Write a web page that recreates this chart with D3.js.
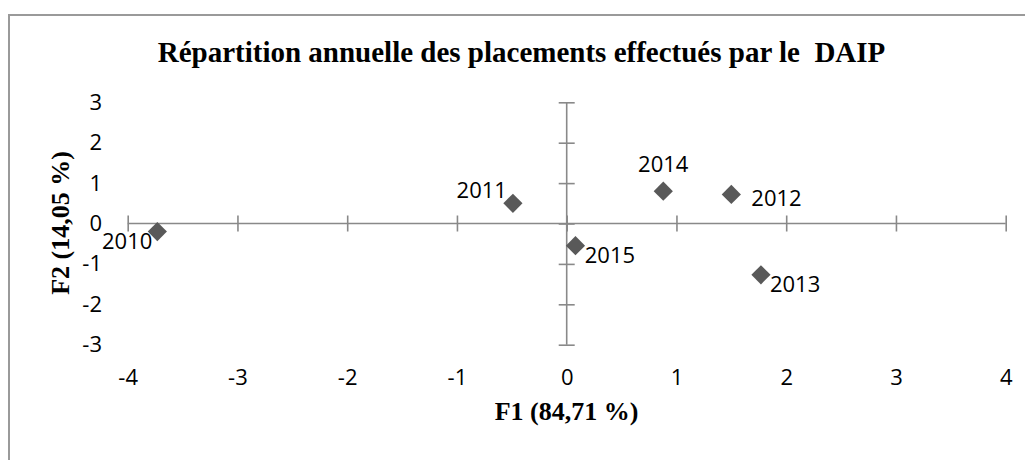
<!DOCTYPE html>
<html>
<head>
<meta charset="utf-8">
<script src="https://cdn.jsdelivr.net/npm/d3@7"></script>
<style>
  html, body { margin: 0; padding: 0; background: #ffffff; }
  svg { display: block; }
  text { white-space: pre; }
</style>
</head>
<body>
<svg id="chart" width="1025" height="460"></svg>
<script>
// ---- data ----
const years = ["2010", "2011", "2012", "2013", "2014", "2015"];
const f1Values = [-3.73, -0.49, 1.50, 1.77, 0.88, 0.08];
const f2Values = [-0.20, 0.50, 0.72, -1.27, 0.80, -0.55];
const xTicks = [-4, -3, -2, -1, 0, 1, 2, 3, 4];
const yTicks = [-3, -2, -1, 0, 1, 2, 3];
const titleText = "Répartition annuelle des placements effectués par le  DAIP";
const xTitle = "F1 (84,71 %)";
const yTitle = "F2 (14,05 %)";

// ---- layout ----
const svg = d3.select("#chart");
const axisColor = "#898989";
const markColor = "#595959";
const tickFont = "'Open Sans', sans-serif";
const tickSize = 22;
const serif = "'Liberation Serif', 'Times New Roman', serif";
const fmt = d => String(d);

const x = d3.scaleLinear().domain([-4, 4]).range([127.7, 1005.7]);
const y = d3.scaleLinear().domain([-3, 3]).range([344.7, 102.3]);

// frame
svg.append("path")
  .attr("d", "M9,470 L9,15 L1040,15")
  .attr("fill", "none")
  .attr("stroke", "#9a9a9a")
  .attr("stroke-width", 2);

// title
svg.append("text")
  .attr("x", 521.5).attr("y", 62)
  .attr("text-anchor", "middle")
  .attr("font-family", serif)
  .attr("font-weight", "bold")
  .attr("font-size", 29)
  .attr("fill", "#000")
  .text(titleText);

// x axis line through y=0 with crossing ticks
const gx = svg.append("g")
  .attr("transform", `translate(0,${y(0)})`)
  .call(d3.axisBottom(x).tickValues(xTicks).tickSize(8).tickFormat(""));
gx.selectAll(".tick line").attr("y1", -8).attr("y2", 8);
gx.select(".domain").attr("d", `M${x(-4)},0H${x(4)}`);
gx.selectAll("line, path").attr("stroke", axisColor).attr("stroke-width", 1.6);

// y axis line through x=0 with crossing ticks
const gy = svg.append("g")
  .attr("transform", `translate(${x(0)},0)`)
  .call(d3.axisLeft(y).tickValues(yTicks).tickSize(8).tickFormat(""));
gy.selectAll(".tick line").attr("x1", -8).attr("x2", 8);
gy.select(".domain").attr("d", `M0,${y(3)}V${y(-3)}`);
gy.selectAll("line, path").attr("stroke", axisColor).attr("stroke-width", 1.6);

// x tick labels at the bottom
const gxl = svg.append("g")
  .attr("transform", `translate(0,${y(-3)})`)
  .call(d3.axisBottom(x).tickValues(xTicks).tickSize(0).tickPadding(25).tickFormat(fmt));
gxl.select(".domain").remove();
gxl.selectAll("text")
  .attr("font-family", tickFont).attr("font-size", tickSize).attr("fill", "#000");

// y tick labels on the left
const gyl = svg.append("g")
  .attr("transform", `translate(104,0)`)
  .call(d3.axisLeft(y).tickValues(yTicks).tickSize(0).tickPadding(2).tickFormat(fmt));
gyl.select(".domain").remove();
gyl.selectAll("text")
  .attr("font-family", tickFont).attr("font-size", tickSize).attr("fill", "#000");

// axis titles
svg.append("text")
  .attr("x", 566.5).attr("y", 420)
  .attr("text-anchor", "middle")
  .attr("font-family", serif).attr("font-weight", "bold")
  .attr("font-size", 26).attr("fill", "#000")
  .text(xTitle);

svg.append("text")
  .attr("transform", `translate(69,223) rotate(-90)`)
  .attr("text-anchor", "middle")
  .attr("font-family", serif).attr("font-weight", "bold")
  .attr("font-size", 26).attr("fill", "#000")
  .text(yTitle);

// points
const pts = years.map((yr, i) => ({ yr, fx: f1Values[i], fy: f2Values[i] }));
const r = 9.6;
svg.append("g").selectAll("path")
  .data(pts)
  .join("path")
  .attr("transform", d => `translate(${x(d.fx)},${y(d.fy)})`)
  .attr("d", `M0,${-r}L${r},0L0,${r}L${-r},0Z`)
  .attr("fill", markColor);

// label placement relative to each point
const labelOffsets = {
  "2010": [-5, 10, "end"],
  "2011": [-6, -13, "end"],
  "2012": [20, 3.5, "start"],
  "2013": [9, 9.5, "start"],
  "2014": [0, -27, "middle"],
  "2015": [9.3, 9.5, "start"]
};
svg.append("g").selectAll("text")
  .data(pts)
  .join("text")
  .attr("x", d => x(d.fx) + labelOffsets[d.yr][0])
  .attr("y", d => y(d.fy) + labelOffsets[d.yr][1])
  .attr("dy", "0.35em")
  .attr("text-anchor", d => labelOffsets[d.yr][2])
  .attr("font-family", tickFont).attr("font-size", tickSize).attr("fill", "#000")
  .text(d => d.yr);
</script>
</body>
</html>
